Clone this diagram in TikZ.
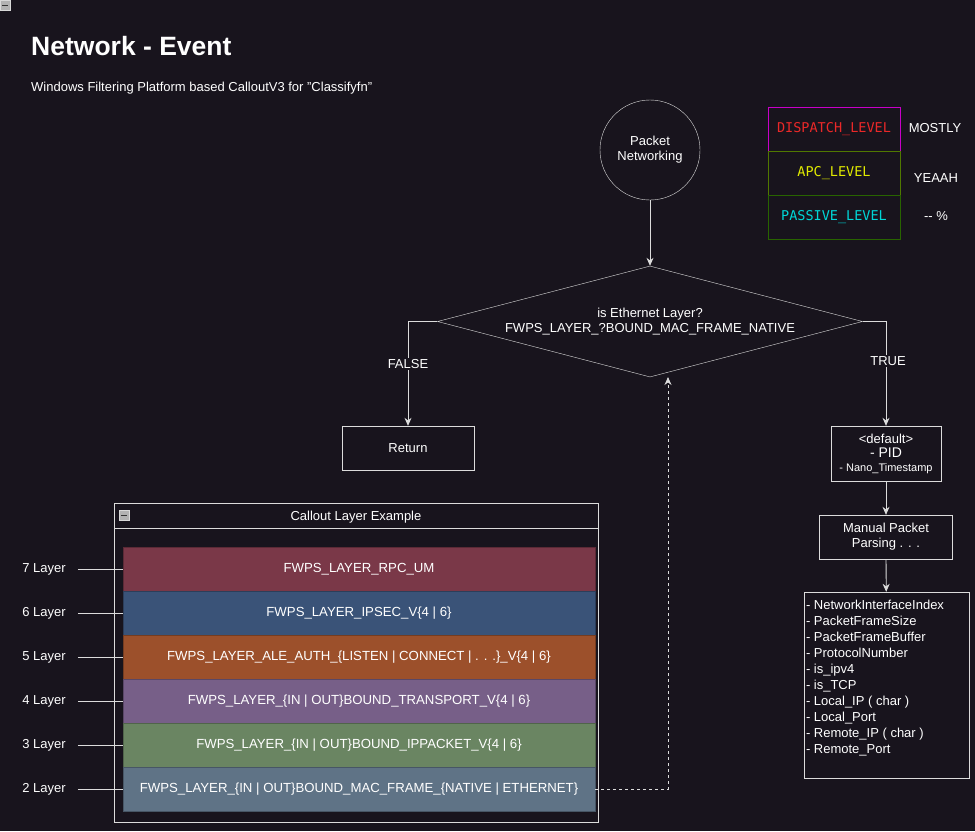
\documentclass[tikz,border=0pt]{standalone}
\usepackage{fontspec}
\setmainfont{Liberation Sans}
\newfontfamily\levelfont{DejaVu Sans Mono}
\usetikzlibrary{positioning,shapes,arrows.meta}

\definecolor{bgdark}{RGB}{24,20,29}
\definecolor{linegray}{RGB}{220,220,220}
\definecolor{layseven}{RGB}{122,56,72}
\definecolor{laysix}{RGB}{58,83,120}
\definecolor{layfive}{RGB}{156,80,43}
\definecolor{layfour}{RGB}{119,95,136}
\definecolor{laythree}{RGB}{106,133,98}
\definecolor{laytwo}{RGB}{95,115,134}
\definecolor{dispborder}{RGB}{200,0,200}
\definecolor{apcborder}{RGB}{80,120,0}
\definecolor{passborder}{RGB}{40,100,0}
\definecolor{disptext}{RGB}{235,40,40}
\definecolor{apctext}{RGB}{225,235,0}
\definecolor{passtext}{RGB}{0,215,215}

\tikzset{
  flowbox/.style={draw=linegray,text=white,align=center,inner sep=0pt,
    font=\fontsize{13}{15}\selectfont},
  levelbox/.style={draw=#1,line width=0.8pt,minimum width=132pt,minimum height=44pt,
    inner sep=0pt,font=\levelfont\fontsize{13.5}{15}\selectfont},
  plain/.style={text=white,inner sep=1pt,font=\fontsize{13}{15}\selectfont},
  flow/.style={draw=linegray,line width=0.8pt,-{Stealth[length=8pt,width=7pt]}},
  layerbox/.style={fill=#1,draw=#1!75!black,minimum width=472pt,minimum height=44pt,
    inner sep=0pt,text=white,font=\fontsize{13.2}{15}\selectfont},
  collapse/.style={fill=gray!60,draw=gray!30,minimum size=10pt,inner sep=0pt,
    path picture={\draw[black!80,line width=1pt] ([xshift=2pt]path picture bounding box.west) -- ([xshift=-2pt]path picture bounding box.east);}}
}

\begin{document}
\begin{tikzpicture}[x=1pt,y=-1pt]
  \useasboundingbox (0,0) rectangle (975,831);
  \fill[bgdark] (0,0) rectangle (975,831);

  \node[collapse] (topicon) at (5,5) {};
  \node[plain,anchor=west,font=\bfseries\fontsize{26.5}{30}\selectfont] (title) at (30,46) {Network - Event};
  \node[plain,anchor=west] (subtitle) at (30,88) {Windows Filtering Platform based CalloutV3 for \symbol{34}Classifyfn\symbol{34}};

  % flow
  \node[flowbox,circle,minimum size=100pt] (packet) at (650,150) {Packet\\Networking};
  \node[flowbox,diamond,minimum width=425pt,minimum height=111pt,aspect=3.83] (ethcheck) at (650,321.5)
    {is Ethernet Layer?\\FWPS\_LAYER\_?BOUND\_MAC\_FRAME\_NATIVE};
  \node[flowbox,minimum width=132pt,minimum height=44pt] (ret) at (408,448) {Return};
  \node[flowbox,minimum width=110pt,minimum height=55pt] (dflt) at (886,453.5)
    {<default>\\[-1pt]{\fontsize{14}{15}\selectfont - PID}\\[-1pt]{\fontsize{11}{13}\selectfont - Nano\_Timestamp}};
  \node[flowbox,minimum width=133pt,minimum height=44pt] (manual) at (886,537) {Manual Packet\\Parsing . . .};
  \node[flowbox,minimum width=165pt,minimum height=186pt] (fields) at (886.5,685) {};
  \node[plain,anchor=north west,align=left,font=\fontsize{13}{16}\selectfont] (fieldlist) at ([shift={(1,7)}]fields.north west)
    {- NetworkInterfaceIndex\\- PacketFrameSize\\- PacketFrameBuffer\\- ProtocolNumber\\- is\_ipv4\\- is\_TCP\\
     - Local\_IP ( char )\\- Local\_Port\\- Remote\_IP ( char )\\- Remote\_Port};

  \draw[flow] (packet) -- (ethcheck);
  \draw[flow] (ethcheck.west) -| (ret.north);
  \draw[flow] (ethcheck.east) -| (dflt.north);
  \draw[flow] (dflt) -- (manual);
  \draw[flow] (manual) -- (fields);
  \node[plain,fill=bgdark] (falselbl) at (408,364) {FALSE};
  \node[plain,fill=bgdark] (truelbl) at (888,361) {TRUE};

  % levels
  \node[levelbox=dispborder,text=disptext] (dispatch) at (834,129) {DISPATCH\_LEVEL};
  \node[levelbox=apcborder,text=apctext] (apc) at (834,173) {APC\_LEVEL};
  \node[levelbox=passborder,text=passtext] (passive) at (834,217) {PASSIVE\_LEVEL};
  \node[plain] (mostly) at (935,128) {MOSTLY};
  \node[plain] (yeaah) at (936,178) {YEAAH};
  \node[plain] (percent) at (936,216) {-{}- \%};

  % callout layers
  \node[draw=linegray,minimum width=484pt,minimum height=319pt,inner sep=0pt] (callout) at (356,662.5) {};
  \draw[linegray] (114,528) -- (598,528);
  \node[plain] (callouttitle) at (356,517) {Callout Layer Example};
  \node[collapse] (callouticon) at (124,515) {};

  \foreach \n/\y/\col/\txt in {
      7/569/layseven/{FWPS\_LAYER\_RPC\_UM},
      6/613/laysix/{FWPS\_LAYER\_IPSEC\_V\{4 | 6\}},
      5/657/layfive/{FWPS\_LAYER\_ALE\_AUTH\_\{LISTEN | CONNECT | . . .\}\_V\{4 | 6\}},
      4/701/layfour/{FWPS\_LAYER\_\{IN | OUT\}BOUND\_TRANSPORT\_V\{4 | 6\}},
      3/745/laythree/{FWPS\_LAYER\_\{IN | OUT\}BOUND\_IPPACKET\_V\{4 | 6\}},
      2/789/laytwo/{FWPS\_LAYER\_\{IN | OUT\}BOUND\_MAC\_FRAME\_\{NATIVE | ETHERNET\}}}
  {
    \node[layerbox=\col] (layer\n) at (359,\y) {\txt};
    \node[plain] (lbl\n) at (44,\y) {\n{} Layer};
    \draw[linegray] ([xshift=11pt]lbl\n.east) -- (layer\n.west);
  }

  \coordinate (dashend) at (668,377);
  \draw[linegray,line width=0.8pt,dash pattern=on 3pt off 3pt,-{Stealth[length=8pt,width=7pt]}] (layer2.east) -| (dashend);
\end{tikzpicture}
\end{document}
